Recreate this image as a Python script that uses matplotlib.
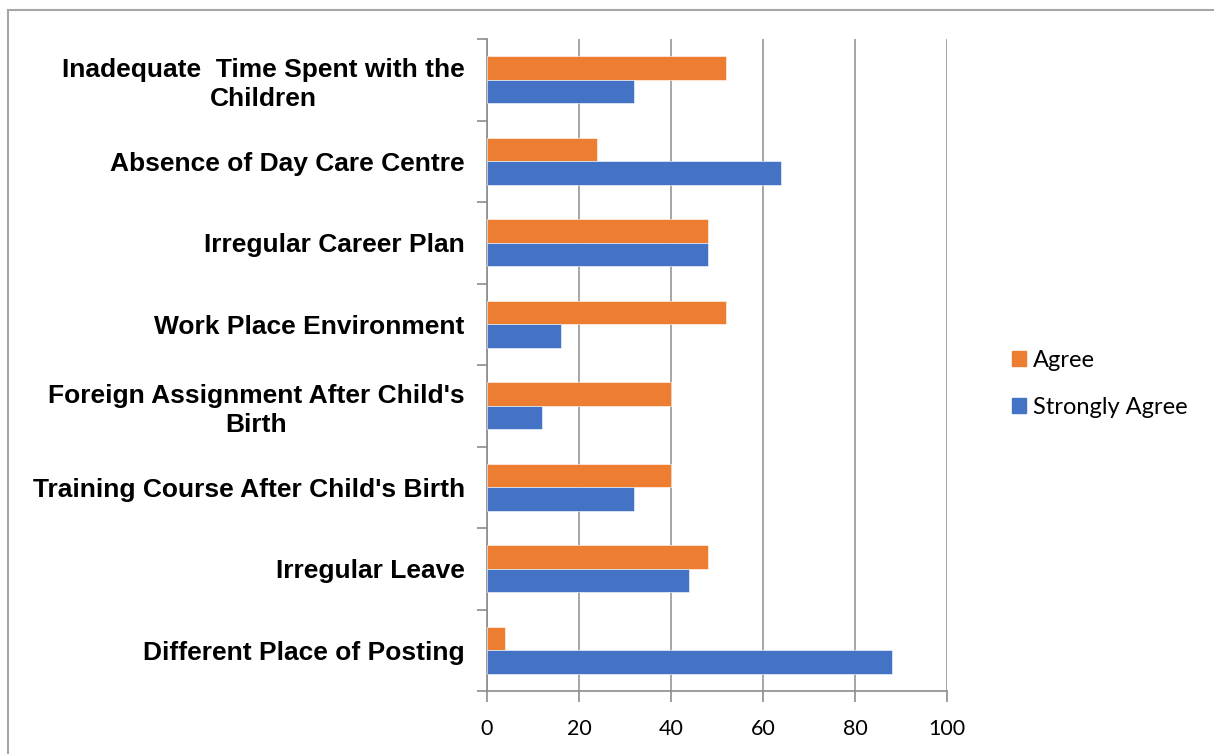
import matplotlib
matplotlib.use("Agg")
import matplotlib.pyplot as plt
from matplotlib.patches import Patch
from matplotlib.lines import Line2D
import numpy as np

# categorias de abajo hacia arriba
categorias = [
    "Different Place of Posting",
    "Irregular Leave",
    "Training Course After Child's Birth",
    "Foreign Assignment After Child's\nBirth",
    "Work Place Environment",
    "Irregular Career Plan",
    "Absence of Day Care Centre",
    "Inadequate  Time Spent with the\nChildren",
]
agree = [4, 48, 40, 40, 52, 48, 24, 52]
strongly_agree = [88, 44, 32, 12, 16, 48, 64, 32]
xticks = [0, 20, 40, 60, 80, 100]

naranja = "#ED7D31"
azul = "#4472C4"
gris = "#8c8c8c"

fig = plt.figure(figsize=(12.14, 7.54), dpi=100)
W, H = 1214, 754
ax = fig.add_axes([487 / W, 1 - 691 / H, (947 - 487) / W, (691 - 39) / H])

y = np.arange(len(categorias))
alto = 0.286
ax.barh(y + alto / 2, agree, height=alto, color=naranja, zorder=3,
        edgecolor="white", linewidth=0.4, label="Agree")
ax.barh(y - alto / 2, strongly_agree, height=alto, color=azul, zorder=3,
        edgecolor="white", linewidth=0.4, label="Strongly Agree")

ax.set_xlim(0, 100)
ax.set_ylim(-0.5, len(categorias) - 0.5)
ax.set_xticks(xticks)
ax.set_xticklabels([str(v) for v in xticks], fontfamily="Lato", fontsize=15.5)
ax.xaxis.grid(True, color="#a0a0a0", linewidth=1.3, zorder=0)

# marcas del eje y en los limites entre categorias, etiquetas en el centro
ax.set_yticks(np.arange(-0.5, len(categorias), 1.0))
ax.set_yticklabels([])
ax.set_yticks(y, minor=True)
ax.set_yticklabels(categorias, minor=True, fontfamily="Liberation Sans",
                   fontweight="bold", fontsize=19, linespacing=1.25)
ax.tick_params(axis="y", which="minor", length=0, pad=16)
ax.tick_params(axis="y", which="major", length=7, color=gris, width=1.2)
ax.tick_params(axis="x", length=8, color=gris, width=1.2, pad=12)
for lbl in ax.get_yticklabels(minor=True):
    lbl.set_multialignment("center")

for lado in ["top", "right"]:
    ax.spines[lado].set_visible(False)
for lado in ["left", "bottom"]:
    ax.spines[lado].set_color(gris)
    ax.spines[lado].set_linewidth(1.2)

handles = [Patch(color=naranja, label="Agree"),
           Patch(color=azul, label="Strongly Agree")]
fig.legend(handles=handles, loc="center left",
           bbox_to_anchor=(1012 / W, 1 - 384 / H), frameon=False,
           borderpad=0, borderaxespad=0,
           prop={"family": "Lato", "size": 17}, handlelength=0.6,
           handleheight=0.6, handletextpad=0.3, labelspacing=1.1)

# borde del area del grafico
fig.add_artist(Line2D([7.5 / W, 1], [1 - 9.5 / H, 1 - 9.5 / H], color="#a6a6a6", linewidth=1.5))
fig.add_artist(Line2D([7.5 / W, 7.5 / W], [0, 1 - 9.5 / H], color="#a6a6a6", linewidth=1.5))

fig.savefig("out.png", dpi=100)
